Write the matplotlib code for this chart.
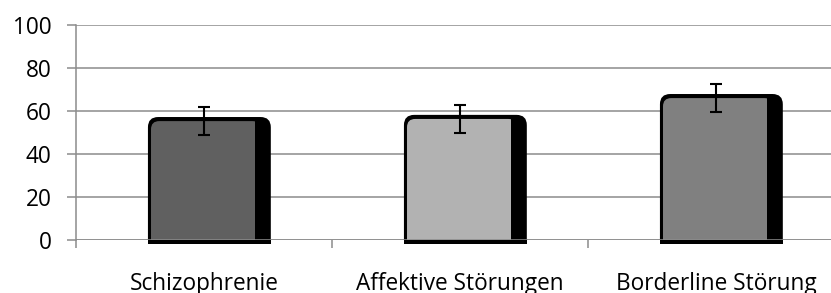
import numpy as np
import matplotlib.pyplot as plt
from matplotlib.patches import FancyBboxPatch

# Data
categories = ["Schizophrenie", "Affektive Störungen", "Borderline Störung"]
means = [55.3, 56.3, 66.0]
errors = [6.5, 6.5, 6.5]
bar_colors = ["#606060", "#b2b2b2", "#808080"]

plt.rcParams['font.family'] = ['Open Sans', 'DejaVu Sans']

fig = plt.figure(figsize=(8.31, 2.93), dpi=100)
# axes spans 76..844 px horizontally (right part runs past the image edge)
ax = fig.add_axes([76 / 831, 53 / 293, 768 / 831, 215 / 293])

x = np.arange(len(categories))
grid_col = "#8c8c8c"

# bar geometry in data units (one category = 1 unit)
left_off = -0.219
full_w = 0.48      # front + dark depth
front_w = 0.42
rim = 0.012
r = 0.04           # corner radius (x units)
aspect = 119       # y units per x unit on screen

for xi, m, c in zip(x, means, bar_colors):
    x0 = xi + left_off
    # dark body (depth + rim), rounded top
    body = FancyBboxPatch((x0, -20), full_w, m + 1.9 + 20,
                          boxstyle="round,pad=0,rounding_size=%g" % r,
                          mutation_aspect=aspect, fc="black", ec="none", zorder=2)
    ax.add_patch(body)
    # front face, rounded on the left; right side hidden under the depth strip
    face = FancyBboxPatch((x0 + rim, -20), front_w - rim + 0.02, m + 20,
                          boxstyle="round,pad=0,rounding_size=%g" % (r * 0.8),
                          mutation_aspect=aspect, fc=c, ec="none", zorder=3)
    ax.add_patch(face)

# depth strip covering the right edge of the front face
depth_w = (full_w - front_w) / 2
ax.bar(x + left_off + front_w + depth_w / 2, means, width=depth_w,
       color="black", zorder=3.5)

# black base just below the zero line
ax.bar(x + left_off + full_w / 2, 1.9, width=full_w, bottom=-1.9,
       color="black", zorder=2, clip_on=False)

ax.errorbar(x, means, yerr=errors, fmt="none", ecolor="black",
            elinewidth=1.5, capsize=4.3, capthick=1.5, zorder=5)

ax.set_xlim(-0.5, 2.5)
ax.set_ylim(0, 100)
ax.set_yticks(np.arange(0, 101, 20))
ax.grid(axis="y", color=grid_col, lw=1.1, zorder=1)
ax.axhline(0, color=grid_col, lw=1.1, zorder=4)

ax.set_xticks(x)
ax.set_xticklabels(categories, fontsize=16.3)
ax.set_xticks([-0.5, 0.5, 1.5, 2.5], minor=True)
ax.tick_params(axis="x", which="major", length=0, pad=23)
ax.tick_params(axis="x", which="minor", length=6, width=1.1, color=grid_col)
ax.tick_params(axis="y", length=6.5, width=1.1, color=grid_col, pad=11,
               labelsize=16.3)

for s in ["top", "right", "bottom"]:
    ax.spines[s].set_visible(False)
ax.spines["left"].set_color(grid_col)
ax.spines["left"].set_linewidth(1.1)

fig.savefig("out.png", dpi=100)
